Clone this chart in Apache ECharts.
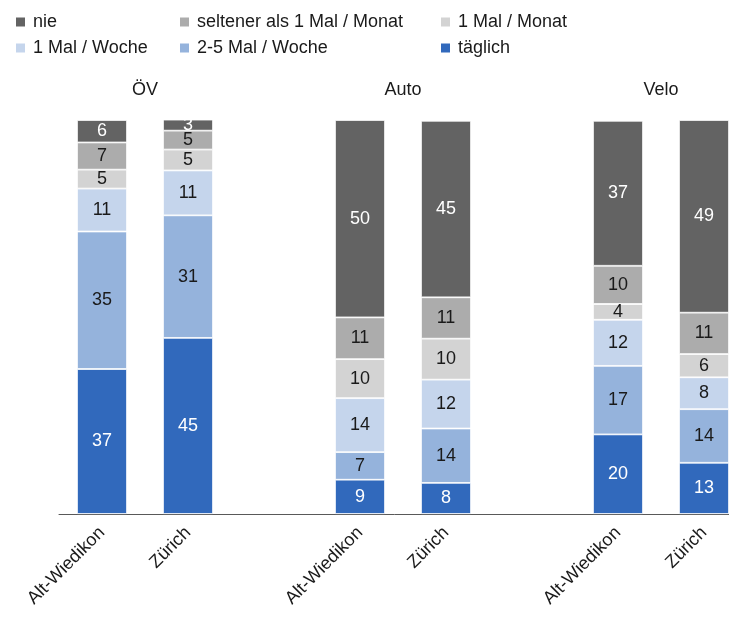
<!DOCTYPE html>
<html>
<head>
<meta charset="utf-8">
<script src="https://cdn.jsdelivr.net/npm/echarts@6/dist/echarts.min.js"></script>
<style>html,body{margin:0;padding:0;background:#fff}#c{width:729px;height:619px}</style>
</head>
<body>
<div id="c"></div>
<script>
// Groups and bars (order of bars: ÖV AW, ÖV Z, Auto AW, Auto Z, Velo AW, Velo Z)
var groups = ['ÖV', 'Auto', 'Velo'];
var places = ['Alt-Wiedikon', 'Zürich'];
var seriesNames = ['täglich', '2-5 Mal / Woche', '1 Mal / Woche', '1 Mal / Monat', 'seltener als 1 Mal / Monat', 'nie'];
var taeglich   = [36.8, 44.7,  8.7,  7.9, 20.2, 13.0];
var mal25Woche = [34.9, 31.1,  7.0, 13.8, 17.4, 13.6];
var mal1Woche  = [10.9, 11.4, 13.7, 12.4, 11.7,  8.1];
var mal1Monat  = [ 4.8,  5.3,  9.9, 10.4,  4.0,  5.9];
var seltener   = [ 6.9,  4.8, 10.6, 10.5,  9.7, 10.5];
var nie        = [ 5.7,  2.9, 50.1, 44.8, 36.8, 48.9];

var colors = ['#3169bc', '#95b3dc', '#c5d5ec', '#d3d3d3', '#acacac', '#636363'];
var labelColors = ['#ffffff', '#1a1a1a', '#1a1a1a', '#1a1a1a', '#1a1a1a', '#ffffff'];
var FONT = "'Liberation Sans', Arial, sans-serif";

// build category axis with an empty slot between groups
var cats = [];
groups.forEach(function (g, gi) {
  places.forEach(function (p) { cats.push(p); });
  if (gi < groups.length - 1) cats.push('');
});
function expand(arr) {
  var out = [], k = 0;
  groups.forEach(function (g, gi) {
    places.forEach(function () { out.push(arr[k++]); });
    if (gi < groups.length - 1) out.push('-');
  });
  return out;
}
var allValues = [taeglich, mal25Woche, mal1Woche, mal1Monat, seltener, nie];

var series = allValues.map(function (vals, i) {
  return {
    name: seriesNames[i],
    type: 'bar',
    stack: 'total',
    barWidth: 50,
    data: expand(vals),
    itemStyle: { color: colors[i], borderColor: '#ffffff', borderWidth: 0.8 },
    label: {
      show: true,
      position: 'inside',
      color: labelColors[i],
      fontSize: 18,
      fontFamily: FONT,
      formatter: function (p) { return Math.round(p.value); }
    },
    emphasis: { disabled: true },
    animation: false
  };
});

function legendFor(names, left) {
  return {
    orient: 'vertical',
    left: left,
    top: 8,
    itemWidth: 11,
    itemHeight: 11,
    itemGap: 8,
    icon: 'rect',
    data: names,
    selectedMode: false,
    textStyle: { fontSize: 18, fontFamily: FONT, color: '#1a1a1a', padding: [0, 0, 0, 2] }
  };
}

var chart = echarts.init(document.getElementById('c'), null, { renderer: 'canvas' });
chart.setOption({
  animation: false,
  legend: [
    legendFor(['nie', '1 Mal / Woche'], 9),
    legendFor(['seltener als 1 Mal / Monat', '2-5 Mal / Woche'], 173),
    legendFor(['1 Mal / Monat', 'täglich'], 434)
  ],
  grid: { left: 59, width: 688, top: 120, height: 394, containLabel: false, outerBoundsMode: 'none' },
  xAxis: {
    type: 'category',
    data: cats,
    axisLine: { lineStyle: { color: '#595959', width: 1 } },
    axisTick: { show: false },
    axisLabel: { interval: 0, rotate: 45, fontSize: 18, fontFamily: FONT, color: '#1a1a1a', margin: 16 }
  },
  yAxis: { type: 'value', min: 0, max: 100, show: false },
  series: series
});

// group titles centred above each pair of bars
var graphics = [];
var idx = 0;
groups.forEach(function (g, gi) {
  var a = chart.convertToPixel({ xAxisIndex: 0 }, idx);
  var b = chart.convertToPixel({ xAxisIndex: 0 }, idx + 1);
  graphics.push({
    type: 'text',
    x: (a + b) / 2,
    y: 90,
    style: { text: g, font: '18px ' + FONT, fill: '#1a1a1a', textAlign: 'center', textVerticalAlign: 'middle' }
  });
  idx += places.length + 1;
});
chart.setOption({ graphic: graphics });
</script>
</body>
</html>
